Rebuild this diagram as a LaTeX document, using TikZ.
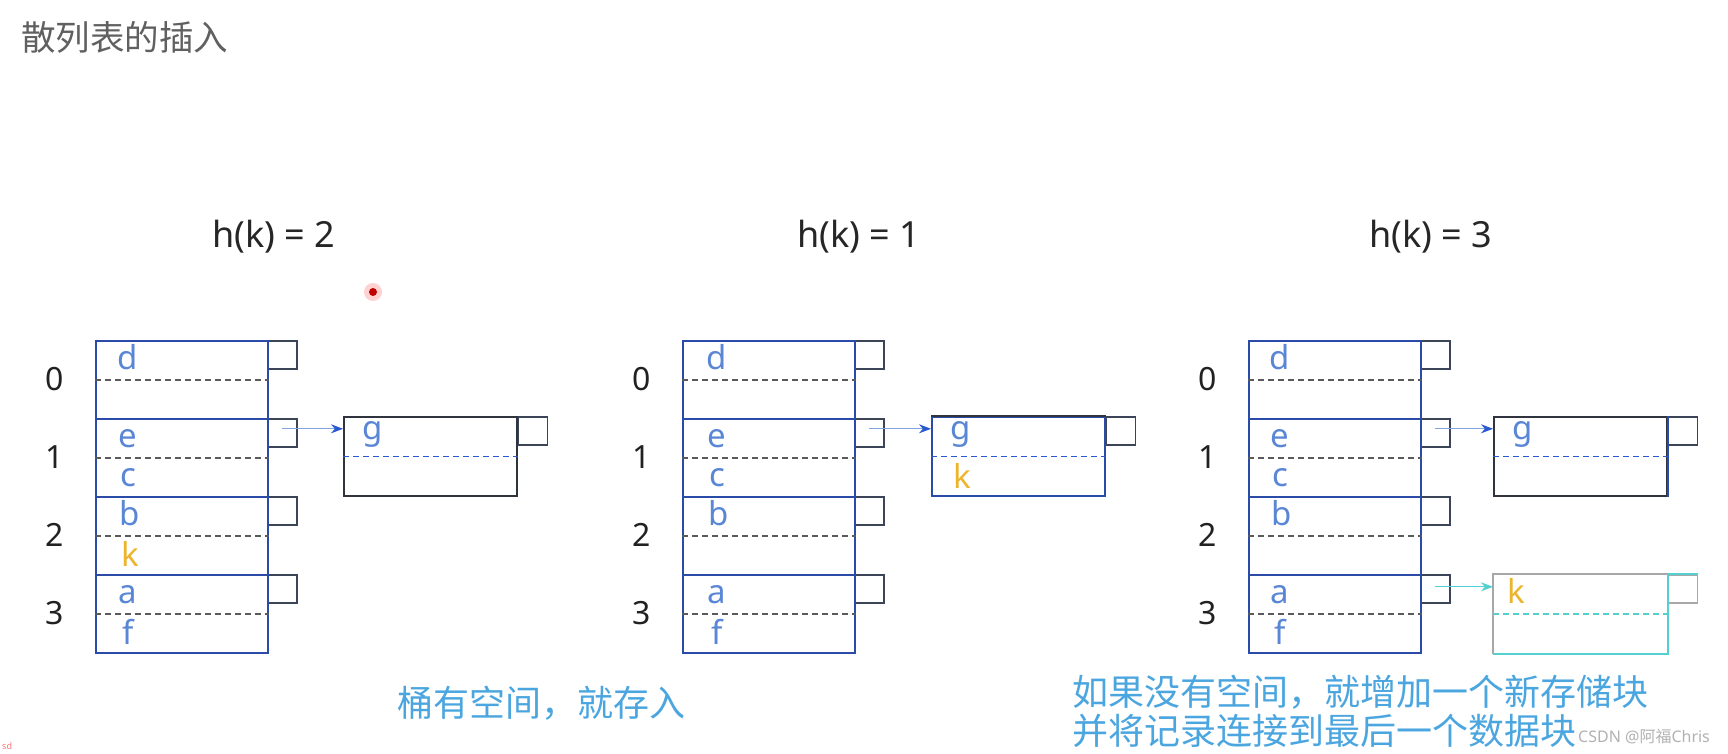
\documentclass[tikz,border=0pt]{standalone}
\usepackage{fontspec}
\setmainfont{Noto Sans}
\newfontfamily\cjk{Noto Sans CJK SC}
\usetikzlibrary{arrows.meta}

\definecolor{tblblue}{HTML}{2B4BA8}
\definecolor{ptrgray}{HTML}{3C4458}
\definecolor{blkdark}{HTML}{30343E}
\definecolor{slotgray}{HTML}{5A5A5A}
\definecolor{keyblue}{HTML}{5A86D6}
\definecolor{keyorange}{HTML}{EDB52E}
\definecolor{linkblue}{HTML}{7FA6E0}
\definecolor{headblue}{HTML}{2A58D0}
\definecolor{newcyan}{HTML}{55D0D0}
\definecolor{newgray}{HTML}{A8A8A8}
\definecolor{notegray}{HTML}{606060}
\definecolor{noteblue}{HTML}{4BA6E0}

\begin{document}
\begin{tikzpicture}[x=1pt,y=-1pt]
  % --- STYLES ---
  \tikzstyle{bucket} = [rectangle, draw=tblblue, line width=1.8pt, anchor=north west, minimum width=172pt, minimum height=78pt, inner sep=0pt]
  \tikzstyle{ptrbox} = [rectangle, draw=ptrgray, line width=1.6pt, anchor=north west, minimum width=29pt, minimum height=28pt, inner sep=0pt]
  \tikzstyle{block} = [rectangle, draw=blkdark, line width=1.8pt, anchor=north west, minimum width=173pt, minimum height=79pt, inner sep=0pt]
  \tikzstyle{slot} = [draw=slotgray, line width=1.3pt, dash pattern=on 6pt off 4pt]
  \tikzstyle{key} = [anchor=base, inner sep=0pt, text=keyblue, font=\fontsize{33pt}{38pt}\selectfont]
  \tikzstyle{newkey} = [key, text=keyorange]
  \tikzstyle{idx} = [inner sep=0pt, text=black!87, font=\fontsize{32pt}{36pt}\selectfont]
  \tikzstyle{hash} = [anchor=base, inner sep=0pt, text=black!85, font=\fontsize{36pt}{40pt}\selectfont]
  \tikzstyle{note} = [anchor=west, inner sep=0pt, align=left, text=noteblue, font=\cjk\fontsize{36pt}{39pt}\selectfont]
  \tikzstyle{link} = [-{Stealth[length=12pt,width=9pt,color=headblue]}, draw=linkblue, line width=1pt]

  \path[use as bounding box, fill=white] (0,0) rectangle (1728,754);

  % --- TITLES ---
  \node (title) [anchor=west, inner sep=0pt, text=notegray, font=\cjk\fontsize{34.5pt}{38pt}\selectfont] at (21,37) {散列表的插入};
  \node (hasha) [hash] at (274,247) {h(k) = 2};
  \node (hashb) [hash] at (859,247) {h(k) = 1};
  \node (hashc) [hash] at (1431,247) {h(k) = 3};

  % --- BUCKET TABLES ---
  \foreach \p/\x in {a/95, b/682, c/1248} {
    \foreach \i in {0,...,3} {
      \node (\p\i p) [ptrbox] at (\x+172, 340+78*\i) {};
      \node (\p\i) [bucket] at (\x, 340+78*\i) {};
      \draw[slot] (\p\i.west) -- (\p\i.east);
      \node (\p\i n) [idx] at (\x-40, 379+78*\i) {\i};
    }
  }

  % keys, h(k) = 2
  \node (ad) [key] at (128,369) {d};
  \node (ae) [key] at (128,447) {e};
  \node (ac) [key] at (128,486) {c};
  \node (ab) [key] at (130,525) {b};
  \node (ak) [newkey] at (130,566) {k};
  \node (aa) [key] at (128,603) {a};
  \node (af) [key] at (128,644) {f};

  % keys, h(k) = 1
  \node (bd) [key] at (717,369) {d};
  \node (be) [key] at (717,447) {e};
  \node (bc) [key] at (717,486) {c};
  \node (bb) [key] at (719,525) {b};
  \node (ba) [key] at (717,603) {a};
  \node (bf) [key] at (717,644) {f};

  % keys, h(k) = 3
  \node (cd) [key] at (1280,369) {d};
  \node (ce) [key] at (1280,447) {e};
  \node (cc) [key] at (1280,486) {c};
  \node (cb) [key] at (1282,525) {b};
  \node (ca) [key] at (1280,603) {a};
  \node (cf) [key] at (1280,644) {f};

  % --- OVERFLOW BLOCKS ---
  \node (ga) [block] at (343,416) {};
  \node (gap) [ptrbox] at (ga.north east) {};
  \draw[slot, draw=headblue] (ga.west) -- (ga.east);
  \node (gag) [key] at (373,439) {g};

  \node (gb) [block, draw=tblblue] at (931,416) {};
  \node (gbp) [ptrbox] at (gb.north east) {};
  \draw[blkdark, line width=1.8pt] (gb.north west) -- (gb.north east);
  \draw[slot, draw=headblue] (gb.west) -- (gb.east);
  \node (gbg) [key] at (961,439) {g};
  \node (gbk) [newkey] at (962,488) {k};

  \node (gc) [block] at (1493,416) {};
  \node (gcp) [ptrbox] at (gc.north east) {};
  \draw[tblblue, line width=1.8pt] (gc.north east) -- (gc.south east);
  \draw[slot, draw=headblue] (gc.west) -- (gc.east);
  \node (gcg) [key] at (1523,439) {g};

  \node (nb) [block, draw=none, minimum height=78pt] at (1493,574) {};
  \node (nbp) [ptrbox, draw=newgray] at (nb.north east) {};
  \draw[newgray, line width=1.8pt] (nb.south west) -- (nb.north west) -- (nb.north east);
  \draw[newcyan, line width=1.8pt] (nbp.north west) -- (nbp.north east);
  \draw[newcyan, line width=1.8pt] (nb.north east) -- (nb.south east) -- (nb.south west);
  \draw[slot, draw=newcyan] (nb.west) -- (nb.east);
  \node (nbk) [newkey] at (1516,603) {k};

  % --- ARROWS ---
  \draw[link] ([yshift=4pt]a1p.center) -- ([yshift=4pt]a1p.center -| ga.west);
  \draw[link] ([yshift=4pt]b1p.center) -- ([yshift=4pt]b1p.center -| gb.west);
  \draw[link] ([yshift=4pt]c1p.center) -- ([yshift=4pt]c1p.center -| gc.west);
  \draw[link, draw=newcyan, -{Stealth[length=12pt,width=9pt,color=newcyan]}] ([yshift=2pt]c3p.center) -- ([yshift=2pt]c3p.center -| nb.west);

  % --- NOTES ---
  \node (notea) [note] at (397,703) {桶有空间，就存入};
  \node (noteb) [note] at (1072,711) {如果没有空间，就增加一个新存储块\\并将记录连接到最后一个数据块};
  \node (mark) [anchor=west, inner sep=0pt, text=black!30, font=\fontsize{16pt}{18pt}\selectfont] at (1578,737) {CSDN @{\cjk 阿福}Chris};
  \node (sd) [anchor=west, inner sep=0pt, text=red!55, font=\fontsize{9pt}{10pt}\selectfont] at (2,746) {sd};

  % cursor mark
  \fill[red!18] (373,292) circle (9);
  \fill[red!75!black] (373,292) circle (4);
\end{tikzpicture}
\end{document}
